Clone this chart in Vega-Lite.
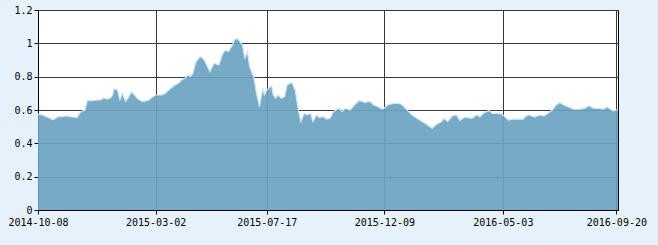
{
  "$schema": "https://vega.github.io/schema/vega-lite/v6.json",
  "width": 580,
  "height": 200,
  "autosize": "none",
  "padding": {"left": 38, "top": 10, "right": 40, "bottom": 35},
  "background": "#e6f2fb",
  "config": {
    "view": {"fill": "white", "stroke": "black", "strokeWidth": 1},
    "axis": {
      "labelFont": "DejaVu Sans Mono",
      "labelFontSize": 10,
      "labelColor": "black",
      "domainColor": "black",
      "tickColor": "black",
      "tickSize": 4,
      "gridColor": "#3a3a3a",
      "gridWidth": 1,
      "gridOpacity": 1,
      "title": null
    }
  },
  "data": {
    "values": [
      {"date": "2014-10-08", "value": 0.577},
      {"date": "2014-10-13", "value": 0.57},
      {"date": "2014-10-18", "value": 0.561},
      {"date": "2014-10-23", "value": 0.55},
      {"date": "2014-10-26", "value": 0.541},
      {"date": "2014-10-29", "value": 0.548},
      {"date": "2014-11-02", "value": 0.561},
      {"date": "2014-11-07", "value": 0.56},
      {"date": "2014-11-12", "value": 0.565},
      {"date": "2014-11-17", "value": 0.56},
      {"date": "2014-11-21", "value": 0.557},
      {"date": "2014-11-25", "value": 0.555},
      {"date": "2014-11-29", "value": 0.585},
      {"date": "2014-12-02", "value": 0.595},
      {"date": "2014-12-05", "value": 0.6},
      {"date": "2014-12-08", "value": 0.66},
      {"date": "2014-12-11", "value": 0.655},
      {"date": "2014-12-16", "value": 0.657},
      {"date": "2014-12-20", "value": 0.66},
      {"date": "2014-12-24", "value": 0.66},
      {"date": "2014-12-28", "value": 0.672},
      {"date": "2015-01-01", "value": 0.665},
      {"date": "2015-01-05", "value": 0.67},
      {"date": "2015-01-08", "value": 0.69},
      {"date": "2015-01-10", "value": 0.732},
      {"date": "2015-01-14", "value": 0.718},
      {"date": "2015-01-17", "value": 0.66},
      {"date": "2015-01-20", "value": 0.7},
      {"date": "2015-01-24", "value": 0.651},
      {"date": "2015-01-28", "value": 0.68},
      {"date": "2015-01-31", "value": 0.708},
      {"date": "2015-02-03", "value": 0.695},
      {"date": "2015-02-07", "value": 0.672},
      {"date": "2015-02-10", "value": 0.66},
      {"date": "2015-02-14", "value": 0.651},
      {"date": "2015-02-18", "value": 0.655},
      {"date": "2015-02-22", "value": 0.66},
      {"date": "2015-02-25", "value": 0.675},
      {"date": "2015-03-02", "value": 0.69},
      {"date": "2015-03-06", "value": 0.69},
      {"date": "2015-03-10", "value": 0.69},
      {"date": "2015-03-14", "value": 0.7},
      {"date": "2015-03-18", "value": 0.72},
      {"date": "2015-03-22", "value": 0.735},
      {"date": "2015-03-26", "value": 0.75},
      {"date": "2015-03-30", "value": 0.76},
      {"date": "2015-04-03", "value": 0.78},
      {"date": "2015-04-07", "value": 0.79},
      {"date": "2015-04-11", "value": 0.81},
      {"date": "2015-04-14", "value": 0.8},
      {"date": "2015-04-17", "value": 0.82},
      {"date": "2015-04-19", "value": 0.86},
      {"date": "2015-04-21", "value": 0.89},
      {"date": "2015-04-24", "value": 0.91},
      {"date": "2015-04-26", "value": 0.92},
      {"date": "2015-04-29", "value": 0.91},
      {"date": "2015-05-01", "value": 0.9},
      {"date": "2015-05-05", "value": 0.86},
      {"date": "2015-05-08", "value": 0.83},
      {"date": "2015-05-11", "value": 0.86},
      {"date": "2015-05-13", "value": 0.88},
      {"date": "2015-05-16", "value": 0.875},
      {"date": "2015-05-19", "value": 0.87},
      {"date": "2015-05-23", "value": 0.93},
      {"date": "2015-05-27", "value": 0.96},
      {"date": "2015-05-31", "value": 0.95},
      {"date": "2015-06-02", "value": 0.97},
      {"date": "2015-06-05", "value": 0.99},
      {"date": "2015-06-07", "value": 1.02},
      {"date": "2015-06-11", "value": 1.03},
      {"date": "2015-06-14", "value": 1.01},
      {"date": "2015-06-17", "value": 0.99},
      {"date": "2015-06-20", "value": 0.91},
      {"date": "2015-06-23", "value": 0.95},
      {"date": "2015-06-26", "value": 0.86},
      {"date": "2015-06-29", "value": 0.82},
      {"date": "2015-07-01", "value": 0.8},
      {"date": "2015-07-04", "value": 0.71},
      {"date": "2015-07-08", "value": 0.62},
      {"date": "2015-07-12", "value": 0.73},
      {"date": "2015-07-14", "value": 0.69},
      {"date": "2015-07-17", "value": 0.72},
      {"date": "2015-07-23", "value": 0.746},
      {"date": "2015-07-25", "value": 0.69},
      {"date": "2015-07-28", "value": 0.67},
      {"date": "2015-07-31", "value": 0.69},
      {"date": "2015-08-04", "value": 0.67},
      {"date": "2015-08-08", "value": 0.68},
      {"date": "2015-08-11", "value": 0.75},
      {"date": "2015-08-17", "value": 0.765},
      {"date": "2015-08-21", "value": 0.72},
      {"date": "2015-08-25", "value": 0.6},
      {"date": "2015-08-28", "value": 0.53},
      {"date": "2015-09-01", "value": 0.58},
      {"date": "2015-09-05", "value": 0.57},
      {"date": "2015-09-09", "value": 0.58},
      {"date": "2015-09-12", "value": 0.53},
      {"date": "2015-09-16", "value": 0.57},
      {"date": "2015-09-20", "value": 0.555},
      {"date": "2015-09-25", "value": 0.56},
      {"date": "2015-09-29", "value": 0.545},
      {"date": "2015-10-03", "value": 0.55},
      {"date": "2015-10-07", "value": 0.59},
      {"date": "2015-10-14", "value": 0.61},
      {"date": "2015-10-18", "value": 0.59},
      {"date": "2015-10-22", "value": 0.61},
      {"date": "2015-10-28", "value": 0.6},
      {"date": "2015-11-02", "value": 0.63},
      {"date": "2015-11-08", "value": 0.657},
      {"date": "2015-11-15", "value": 0.645},
      {"date": "2015-11-21", "value": 0.651},
      {"date": "2015-11-26", "value": 0.63},
      {"date": "2015-12-01", "value": 0.62},
      {"date": "2015-12-07", "value": 0.605},
      {"date": "2015-12-13", "value": 0.63},
      {"date": "2015-12-20", "value": 0.64},
      {"date": "2015-12-26", "value": 0.64},
      {"date": "2015-12-30", "value": 0.635},
      {"date": "2016-01-04", "value": 0.61},
      {"date": "2016-01-08", "value": 0.59},
      {"date": "2016-01-12", "value": 0.57},
      {"date": "2016-01-18", "value": 0.55},
      {"date": "2016-01-25", "value": 0.53},
      {"date": "2016-01-31", "value": 0.51},
      {"date": "2016-02-06", "value": 0.49},
      {"date": "2016-02-10", "value": 0.51},
      {"date": "2016-02-17", "value": 0.53},
      {"date": "2016-02-21", "value": 0.55},
      {"date": "2016-02-25", "value": 0.53},
      {"date": "2016-03-02", "value": 0.565},
      {"date": "2016-03-07", "value": 0.57},
      {"date": "2016-03-11", "value": 0.537},
      {"date": "2016-03-17", "value": 0.557},
      {"date": "2016-03-26", "value": 0.55},
      {"date": "2016-04-01", "value": 0.57},
      {"date": "2016-04-05", "value": 0.56},
      {"date": "2016-04-09", "value": 0.58},
      {"date": "2016-04-16", "value": 0.597},
      {"date": "2016-04-20", "value": 0.58},
      {"date": "2016-04-26", "value": 0.58},
      {"date": "2016-05-02", "value": 0.575},
      {"date": "2016-05-06", "value": 0.557},
      {"date": "2016-05-10", "value": 0.54},
      {"date": "2016-05-16", "value": 0.545},
      {"date": "2016-05-23", "value": 0.545},
      {"date": "2016-05-28", "value": 0.545},
      {"date": "2016-06-01", "value": 0.565},
      {"date": "2016-06-04", "value": 0.57},
      {"date": "2016-06-11", "value": 0.557},
      {"date": "2016-06-17", "value": 0.57},
      {"date": "2016-06-23", "value": 0.565},
      {"date": "2016-06-29", "value": 0.585},
      {"date": "2016-07-03", "value": 0.6},
      {"date": "2016-07-07", "value": 0.626},
      {"date": "2016-07-12", "value": 0.645},
      {"date": "2016-07-17", "value": 0.63},
      {"date": "2016-07-23", "value": 0.618},
      {"date": "2016-07-29", "value": 0.605},
      {"date": "2016-08-06", "value": 0.605},
      {"date": "2016-08-12", "value": 0.61},
      {"date": "2016-08-17", "value": 0.626},
      {"date": "2016-08-23", "value": 0.61},
      {"date": "2016-08-29", "value": 0.61},
      {"date": "2016-09-04", "value": 0.605},
      {"date": "2016-09-09", "value": 0.618},
      {"date": "2016-09-14", "value": 0.6},
      {"date": "2016-09-17", "value": 0.595},
      {"date": "2016-09-20", "value": 0.6},
      {"date": "2016-09-22", "value": 0.6}
    ]
  },
  "mark": {
    "type": "area",
    "color": "#6aa3c1",
    "opacity": 0.92,
    "interpolate": "linear",
    "line": {"color": "#cfe6f5", "strokeWidth": 1.2}
  },
  "encoding": {
    "x": {
      "field": "date",
      "type": "temporal",
      "scale": {
        "type": "utc",
        "domain": [
          {"year": 2014, "month": 10, "date": 8, "utc": true},
          {"year": 2016, "month": 9, "date": 22, "utc": true}
        ]
      },
      "axis": {
        "values": [
          {"year": 2014, "month": 10, "date": 8, "utc": true},
          {"year": 2015, "month": 3, "date": 2, "utc": true},
          {"year": 2015, "month": 7, "date": 17, "utc": true},
          {"year": 2015, "month": 12, "date": 9, "utc": true},
          {"year": 2016, "month": 5, "date": 3, "utc": true},
          {"year": 2016, "month": 9, "date": 20, "utc": true}
        ],
        "format": "%Y-%m-%d",
        "labelFlush": false,
        "labelOverlap": false,
        "labelBound": false,
        "labelPadding": 3,
        "grid": true
      }
    },
    "y": {
      "field": "value",
      "type": "quantitative",
      "scale": {"domain": [0, 1.2], "nice": false},
      "axis": {
        "values": [0, 0.2, 0.4, 0.6, 0.8, 1, 1.2],
        "labelExpr": "'' + datum.value",
        "labelPadding": 2,
        "grid": true
      }
    }
  }
}
